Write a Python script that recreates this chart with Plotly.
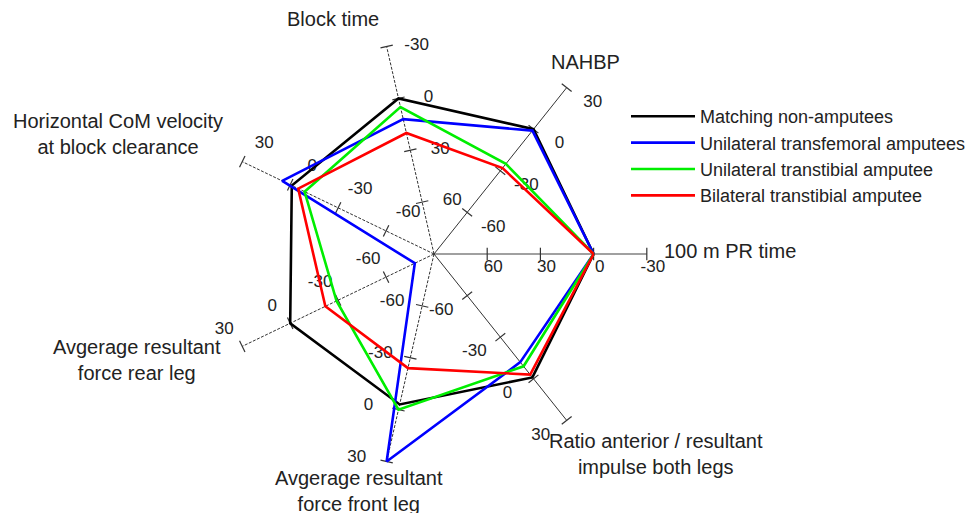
import math
import plotly.graph_objects as go

# ---------------- data ----------------
axis_names = [
    "100 m PR time",
    "NAHBP",
    "Block time",
    "Horizontal CoM velocity at block clearance",
    "Avgerage resultant force rear leg",
    "Avgerage resultant force front leg",
    "Ratio anterior / resultant impulse both legs",
]
# +1: values increase outward, -1: values decrease outward
axis_dir = [-1, 1, -1, 1, 1, 1, 1]
tick_values = [-60, -30, 0, 30]  # shown as value*dir ordering per axis

series_names = [
    "Matching non-amputees",
    "Unilateral transfemoral amputees",
    "Unilateral transtibial amputee",
    "Bilateral transtibial amputee",
]
matching = [0, 0, 0, -1, 0, -3, -1]
transfemoral = [0, -1, 12, 5, -78, 30, -12]
transtibial = [0, -25, 5, -9, -29, 0, -9]
bilateral = [0, -28, 20, -5, -22, -24, -3]
series_values = [matching, transfemoral, transtibial, bilateral]
series_colors = ["#000000", "#0000ff", "#00ee00", "#ff0000"]

# ---------------- layout geometry ----------------
W, H = 974, 513
CX, CY = 434, 254          # polar centre in page px
RMAX = 128                 # radial range upper bound (units)
RPX = 227                  # radius in px for RMAX
K = RPX / RMAX
n = len(axis_names)
thetas = [i * 360.0 / n for i in range(n)]
ZERO = 90  # radial unit at which value 0 sits


def to_u(v, d):
    return ZERO + d * v


fig = go.Figure()

# axis lines
axis_styles = [
    dict(color="#808080", width=1.4, dash="solid"),
    dict(color="#333333", width=1, dash="solid"),
    dict(color="#333333", width=1, dash="3px,1.5px"),
    dict(color="#333333", width=1, dash="3px,1.5px"),
    dict(color="#333333", width=1, dash="3px,1.5px"),
    dict(color="#333333", width=1, dash="3px,1.5px"),
    dict(color="#333333", width=1, dash="solid"),
]
for i, th in enumerate(thetas):
    fig.add_trace(go.Scatterpolar(
        r=[0, 120], theta=[th, th], mode="lines",
        line=axis_styles[i], showlegend=False, hoverinfo="skip"))

# tick marks
for i, th in enumerate(thetas):
    fig.add_trace(go.Scatterpolar(
        r=[30, 60, 90, 120], theta=[th] * 4, mode="markers",
        marker=dict(symbol="line-ns", size=9, angle=-th,
                    line=dict(width=1.2, color="#333333")),
        showlegend=False, hoverinfo="skip"))

# tick labels (offset in screen px from tick point)
label_offsets = [(6, 14), (26, 15), (30, -1), (22, -18), (-18, -17), (-30, -4), (-26, 15)]
for i, th in enumerate(thetas):
    d = axis_dir[i]
    rs, ts, txt = [], [], []
    for v in tick_values:
        vv = v * d
        u = to_u(vv, d)
        dx, dy = label_offsets[i]
        x = u * K * math.cos(math.radians(th)) + dx
        y = u * K * math.sin(math.radians(th)) - dy
        rs.append(math.hypot(x, y) / K)
        ts.append(math.degrees(math.atan2(y, x)))
        txt.append(str(vv))
    fig.add_trace(go.Scatterpolar(
        r=rs, theta=ts, mode="text", text=txt, cliponaxis=False,
        textfont=dict(family="Liberation Sans, Arial", size=17, color="#222222"),
        showlegend=False, hoverinfo="skip"))

# data series
for name, vals, col in zip(series_names, series_values, series_colors):
    rr = [to_u(v, d) for v, d in zip(vals, axis_dir)]
    fig.add_trace(go.Scatterpolar(
        r=rr + [rr[0]], theta=thetas + [thetas[0]], mode="lines",
        name=name, line=dict(color=col, width=2.6), cliponaxis=False))

# axis titles
titles = [
    ("100 m PR time", 662, 251, "left"),
    ("NAHBP", 585, 62, "center"),
    ("Block time", 333, 19, "center"),
    ("Horizontal CoM velocity<br>at block clearance", 118, 134, "center"),
    ("Avgerage resultant<br>force rear leg", 137, 360, "center"),
    ("Avgerage resultant<br>force front leg", 359, 491, "center"),
    ("Ratio anterior / resultant<br>impulse both legs", 656, 454, "center"),
]
annotations = []
for t, x, y, xa in titles:
    annotations.append(dict(
        text=t, x=x / W, y=1 - y / H, xref="paper", yref="paper",
        xanchor=xa, yanchor="middle", showarrow=False, align="center",
        font=dict(family="Liberation Sans, Arial", size=20, color="#222222")))

fig.update_layout(
    width=W, height=H,
    margin=dict(l=0, r=0, t=0, b=0),
    paper_bgcolor="white", plot_bgcolor="white",
    polar=dict(
        domain=dict(x=[(CX - RPX) / W, (CX + RPX) / W],
                    y=[(H - CY - RPX) / H, (H - CY + RPX) / H]),
        bgcolor="rgba(0,0,0,0)",
        radialaxis=dict(range=[0, RMAX], visible=False),
        angularaxis=dict(visible=False, rotation=0, direction="counterclockwise",
                         thetaunit="degrees"),
    ),
    showlegend=True,
    legend=dict(x=626 / W, y=1 - 98 / H, xanchor="left", yanchor="top",
                bgcolor="rgba(0,0,0,0)", itemwidth=64,
                font=dict(family="Liberation Sans, Arial", size=18, color="#222222"),
                tracegroupgap=0),
    annotations=annotations,
)

fig.write_html("out.html")
